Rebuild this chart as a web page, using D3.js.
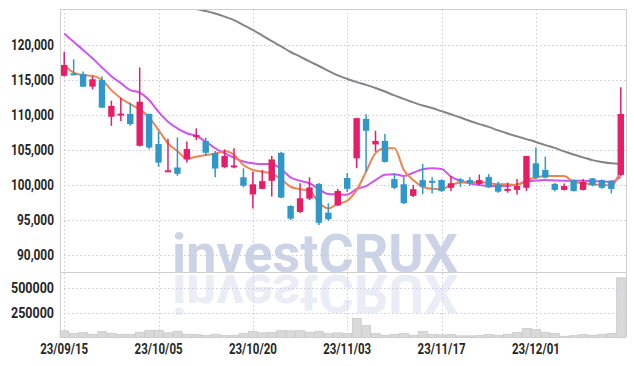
<!DOCTYPE html>
<html>
<head>
<meta charset="utf-8">
<script src="https://cdn.jsdelivr.net/npm/d3@7"></script>
<style>
  body { margin: 0; background: #fff; }
  text { font-family: Roboto, "Liberation Sans", sans-serif; font-weight: bold; }
</style>
</head>
<body>
<div id="chart"></div>
<script>
var dates = ['23/09/15','23/09/18','23/09/19','23/09/20','23/09/21','23/09/22','23/09/25','23/09/26','23/09/27','23/10/04',
             '23/10/05','23/10/06','23/10/10','23/10/11','23/10/12','23/10/13','23/10/16','23/10/17','23/10/18','23/10/19',
             '23/10/20','23/10/23','23/10/24','23/10/25','23/10/26','23/10/27','23/10/30','23/10/31','23/11/01','23/11/02',
             '23/11/03','23/11/06','23/11/07','23/11/08','23/11/09','23/11/10','23/11/13','23/11/14','23/11/15','23/11/16',
             '23/11/17','23/11/20','23/11/21','23/11/22','23/11/23','23/11/24','23/11/27','23/11/28','23/11/29','23/11/30',
             '23/12/01','23/12/04','23/12/05','23/12/06','23/12/07','23/12/08','23/12/11','23/12/12','23/12/13','23/12/14'];

var open = [115600,115950,115850,114050,115000,109750,110100,110150,105600,110150,
            105850,102050,102500,103650,107000,106300,104550,102550,102700,101100,
            98650,99450,100600,104600,97000,96150,98050,100150,96050,97100,
            101000,103800,109450,105800,106300,100850,100100,98450,100700,100600,
            100700,99600,100800,100700,100150,101150,100100,99200,99300,99600,
            103100,102150,100150,99300,100700,99300,100950,100700,100600,101450];
var close = [117150,115800,114050,115100,111050,111300,110200,108700,111900,105350,
             103200,102100,101600,105150,107150,104600,102350,104150,102800,99900,
             100100,100550,103650,98200,95200,98100,99650,94600,95100,99150,
             99450,109550,107750,106300,103300,99600,97400,99400,99750,100500,
             99150,100250,100600,100250,100700,99650,99050,99450,99850,104150,
             101050,101050,99300,99850,99150,100450,99950,99600,99450,110150];
var high = [119050,117950,116200,115550,115500,112050,112450,111750,116800,110200,
            107600,106600,106800,106200,108100,106750,104850,105100,105250,102400,
            101900,102150,104150,104700,97100,100250,101100,100300,97400,99450,
            101700,109600,110100,107750,107300,101650,101100,100000,103000,101100,
            100800,101300,101000,101100,101500,101550,100450,100350,100850,104150,
            105350,104050,100300,100200,100800,100850,101000,100800,100700,113950];
var low = [115500,115700,114000,113650,111000,108450,109150,108450,105500,105100,
           102600,102000,101300,103200,106400,104150,101100,102400,102400,99650,
           96650,99400,98350,98100,95000,96000,97850,94300,94900,97000,
           99000,102400,101900,104750,103200,99400,97300,98300,98700,98800,
           99000,99150,99750,99900,100000,99600,98900,98900,98650,99150,
           100850,100950,99100,99200,99050,99200,99800,99450,98800,101300];
var volume = [67000,40000,50000,33000,60000,43000,30000,33000,53000,73000,
              73000,47000,63000,33000,30000,20000,33000,20000,23000,43000,
              60000,47000,53000,70000,67000,70000,53000,63000,40000,47000,
              40000,190000,120000,40000,23000,33000,40000,23000,60000,33000,
              27000,30000,17000,17000,20000,30000,20000,33000,50000,90000,
              80000,53000,40000,13000,20000,30000,23000,33000,40000,597000];

var ma5 = [117100,116050,115700,115600,115000,113550,112400,111550,110800,109650,
           107850,105950,104850,103750,104050,104300,104450,104850,104300,102850,
           102150,101900,101650,100800,99750,99400,99200,97450,96650,97300,
           97750,99300,101900,104550,105250,105250,102150,100700,99750,99450,
           99400,100000,100350,100350,100450,100250,100100,100100,100000,100700,
           101050,101300,101300,101300,100450,100250,100100,100000,99950,102150];
var ma20 = [121650,120450,119300,118100,116800,115550,114550,113550,113200,112150,
            110450,109050,108100,107400,107000,106200,105250,104550,103900,103350,
            103100,103000,103000,102250,101100,100600,100250,99400,98700,98650,
            98600,99450,99850,100700,101450,101550,101300,101750,102250,102400,
            102300,101200,100600,100250,100000,99850,99850,99850,100100,100450,
            100650,100700,100650,100600,100600,100600,100550,100500,100450,101200];
var ma60 = [null,null,null,null,null,null,null,null,null,null,
            null,null,null,125600,125150,124850,124500,124050,123550,122850,
            122150,121350,120550,119800,119000,118350,117650,117000,116300,115650,
            115150,114700,114300,113850,113350,112800,112300,111800,111350,111000,
            110550,110100,109650,109150,108700,108300,107800,107350,106950,106550,
            106150,105700,105300,104800,104350,103950,103550,103300,103100,103000];

var priceTicks = [90000,95000,100000,105000,110000,115000,120000];
var volumeTicks = [250000,500000];
var dateTicks = ['23/09/15','23/10/05','23/10/20','23/11/03','23/11/17','23/12/01'];

var width = 634, height = 366;
var plotLeft = 60, plotRight = 626, plotTop = 9, plotSplit = 272, plotBottom = 337;

var svg = d3.select('#chart').append('svg')
  .attr('width', width)
  .attr('height', height);

var x = d3.scaleBand().domain(dates).range([59.5, 625.5]);
var bw = x.bandwidth();
var cx = function(i) { return x(dates[i]) + bw / 2; };

var y = d3.scaleLinear().domain([90000, 120000]).range([255, 45]);
var yv = d3.scaleLinear().domain([0, 500000]).range([337.5, 287.5]);

svg.append('defs').append('clipPath').attr('id', 'price-clip')
  .append('rect').attr('x', plotLeft).attr('y', plotTop + 1)
  .attr('width', plotRight - plotLeft).attr('height', plotSplit - plotTop - 1);

// watermark and its reflection
var mark = svg.append('g')
  .style('font-family', '"DejaVu Sans", Arial, sans-serif')
  .style('font-size', '54px')
  .attr('fill', '#ccd3e7');
mark.append('text')
  .attr('x', 172).attr('y', 272)
  .attr('textLength', 286).attr('lengthAdjust', 'spacingAndGlyphs')
  .text('investCRUX');
mark.append('text')
  .attr('x', 172).attr('y', -275)
  .attr('transform', 'scale(1,-1)')
  .attr('textLength', 286).attr('lengthAdjust', 'spacingAndGlyphs')
  .attr('opacity', 0.4)
  .text('investCRUX');

// grid
var grid = svg.append('g')
  .attr('stroke', '#c8cadc')
  .attr('stroke-width', 1)
  .attr('stroke-dasharray', '1.5,2.5');
grid.selectAll('.hp').data(priceTicks).enter().append('line')
  .attr('x1', plotLeft).attr('x2', plotRight)
  .attr('y1', function(d) { return Math.round(y(d)) + 0.5; })
  .attr('y2', function(d) { return Math.round(y(d)) + 0.5; });
grid.selectAll('.hv').data(volumeTicks).enter().append('line')
  .attr('x1', plotLeft).attr('x2', plotRight)
  .attr('y1', function(d) { return Math.round(yv(d)) + 0.5; })
  .attr('y2', function(d) { return Math.round(yv(d)) + 0.5; });
grid.selectAll('.vx').data(dateTicks).enter().append('line')
  .attr('x1', function(d) { return Math.round(x(d) + bw / 2) + 0.5; })
  .attr('x2', function(d) { return Math.round(x(d) + bw / 2) + 0.5; })
  .attr('y1', plotTop).attr('y2', plotBottom);

// volume bars
svg.append('g').selectAll('rect')
  .data(volume)
  .enter().append('rect')
  .attr('x', function(d, i) { return x(dates[i]) + 0.5; })
  .attr('width', bw - 0.6)
  .attr('y', function(d) { return yv(d); })
  .attr('height', function(d) { return yv(0) - yv(d); })
  .attr('fill', '#d9d9d9')
  .attr('stroke', '#c2c2c2')
  .attr('stroke-width', 0.6);

// moving averages
var plot = svg.append('g').attr('clip-path', 'url(#price-clip)');
var maLine = d3.line()
  .defined(function(d) { return d != null; })
  .x(function(d, i) { return cx(i); })
  .y(function(d) { return y(d); })
  .curve(d3.curveMonotoneX);

[[ma60, '#858585'], [ma20, '#cf55ee'], [ma5, '#ee8550']].forEach(function(s) {
  plot.append('path')
    .datum(s[0])
    .attr('d', maLine)
    .attr('fill', 'none')
    .attr('stroke', s[1])
    .attr('stroke-width', 2);
});

// candles
var up = '#e61e68', down = '#2f98c9';
var candles = plot.selectAll('g.candle')
  .data(dates)
  .enter().append('g');
candles.append('line')
  .attr('x1', function(d, i) { return cx(i); })
  .attr('x2', function(d, i) { return cx(i); })
  .attr('y1', function(d, i) { return y(high[i]); })
  .attr('y2', function(d, i) { return y(low[i]); })
  .attr('stroke', function(d, i) { return close[i] >= open[i] ? up : down; })
  .attr('stroke-width', 1.5);
candles.append('rect')
  .attr('x', function(d, i) { return cx(i) - 3.2; })
  .attr('width', 6.4)
  .attr('y', function(d, i) { return y(Math.max(open[i], close[i])); })
  .attr('height', function(d, i) { return Math.max(2, Math.abs(y(open[i]) - y(close[i]))); })
  .attr('fill', function(d, i) { return close[i] >= open[i] ? up : down; });

// frame
var frame = svg.append('g').attr('stroke', '#cfcfcf').attr('stroke-width', 1);
frame.append('line').attr('x1', plotLeft + 0.5).attr('x2', plotLeft + 0.5).attr('y1', plotTop).attr('y2', plotBottom);
frame.append('line').attr('x1', plotRight + 0.5).attr('x2', plotRight + 0.5).attr('y1', plotTop).attr('y2', plotBottom);
frame.append('line').attr('x1', plotLeft).attr('x2', plotRight).attr('y1', plotTop + 0.5).attr('y2', plotTop + 0.5);
frame.append('line').attr('x1', plotLeft).attr('x2', plotRight).attr('y1', plotSplit + 0.5).attr('y2', plotSplit + 0.5);
frame.append('line').attr('x1', plotLeft).attr('x2', plotRight).attr('y1', plotBottom + 0.5).attr('y2', plotBottom + 0.5);

// labels (condensed look via textLength)
var fmt = d3.format(',');
svg.append('g').selectAll('text')
  .data(priceTicks)
  .enter().append('text')
  .attr('x', 54)
  .attr('y', function(d) { return y(d); })
  .attr('dy', '0.36em')
  .attr('text-anchor', 'end')
  .attr('textLength', function(d) { return d >= 100000 ? 43 : 37; })
  .attr('lengthAdjust', 'spacingAndGlyphs')
  .attr('fill', '#262626')
  .style('font-size', '14px')
  .text(function(d) { return fmt(d); });
svg.append('g').selectAll('text')
  .data(volumeTicks)
  .enter().append('text')
  .attr('x', 54)
  .attr('y', function(d) { return yv(d); })
  .attr('dy', '0.36em')
  .attr('text-anchor', 'end')
  .attr('textLength', 43)
  .attr('lengthAdjust', 'spacingAndGlyphs')
  .attr('fill', '#262626')
  .style('font-size', '14px')
  .text(function(d) { return d; });
svg.append('g').selectAll('text')
  .data(dateTicks)
  .enter().append('text')
  .attr('x', function(d) { return x(d) + bw / 2; })
  .attr('y', 354)
  .attr('text-anchor', 'middle')
  .attr('textLength', 48)
  .attr('lengthAdjust', 'spacingAndGlyphs')
  .attr('fill', '#262626')
  .style('font-size', '14px')
  .text(function(d) { return d; });
</script>
</body>
</html>
